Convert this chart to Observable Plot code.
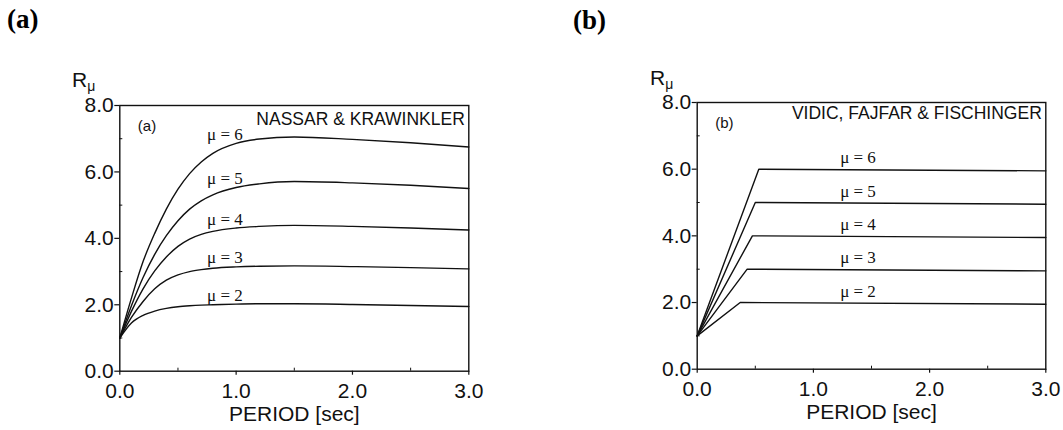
<!DOCTYPE html>
<html>
<head>
<meta charset="utf-8">
<script src="https://cdn.jsdelivr.net/npm/d3@7"></script>
<script src="https://cdn.jsdelivr.net/npm/@observablehq/plot@0.6"></script>
<style>
  html, body { margin: 0; padding: 0; background: #fff; }
  #page { position: relative; width: 1063px; height: 430px; overflow: hidden; background: #fff; }
  .panel { position: absolute; top: 0; }
  .hdr { position: absolute; font: bold 27px "Liberation Serif", "Times New Roman", serif; line-height: 1; color: #000; }
  .rmu { position: absolute; font: 21px "Liberation Sans", Arial, sans-serif; line-height: 1; color: #111; }
  .rmu sub { font-size: 14px; vertical-align: -4px; }
</style>
</head>
<body>
<div id="page">
  <div class="hdr" style="left:7px;top:6px;">(a)</div>
  <div class="hdr" style="left:573px;top:7px;">(b)</div>
  <div class="rmu" style="left:72px;top:69px;">R<sub>μ</sub></div>
  <div class="rmu" style="left:650px;top:67px;">R<sub>μ</sub></div>
</div>
<script>
// ---------- data ----------
const ductilities = [2, 3, 4, 5, 6];

// (a) Nassar & Krawinkler: period grid and R_mu readings
const periodA = [0, 0.1, 0.2, 0.3, 0.4, 0.5, 0.6, 0.7, 0.8, 1.0, 1.2, 1.5, 2.0, 2.5, 3.0];
const nkMu2 = [1.0, 1.45, 1.68, 1.81, 1.89, 1.94, 1.97, 1.99, 2.00, 2.02, 2.03, 2.03, 2.01, 1.98, 1.95];
const nkMu3 = [1.0, 1.62, 2.10, 2.48, 2.74, 2.90, 3.00, 3.06, 3.10, 3.14, 3.16, 3.17, 3.15, 3.12, 3.08];
const nkMu4 = [1.0, 1.80, 2.48, 3.02, 3.44, 3.76, 3.98, 4.12, 4.21, 4.31, 4.36, 4.39, 4.36, 4.31, 4.25];
const nkMu5 = [1.0, 1.97, 2.82, 3.52, 4.08, 4.53, 4.88, 5.13, 5.31, 5.53, 5.64, 5.71, 5.67, 5.60, 5.50];
const nkMu6 = [1.0, 2.20, 3.30, 4.15, 4.88, 5.48, 5.95, 6.30, 6.56, 6.86, 6.99, 7.05, 6.98, 6.88, 6.75];
const nkSeries = [nkMu2, nkMu3, nkMu4, nkMu5, nkMu6];

// (b) Vidic, Fajfar & Fischinger: piecewise linear (start, corner, end)
const vffT = [
  [0, 0.37, 3.0],
  [0, 0.43, 3.0],
  [0, 0.475, 3.0],
  [0, 0.50, 3.0],
  [0, 0.53, 3.0]
];
const vffR = [
  [1.0, 2.0, 1.95],
  [1.0, 3.0, 2.95],
  [1.0, 4.0, 3.95],
  [1.0, 5.0, 4.95],
  [1.0, 6.0, 5.95]
];

const yTicks = [0, 2, 4, 6, 8];
const yMinor = [1, 3, 5, 7];
const xTicks = [0, 1, 2, 3];
const xMinor = [0.5, 1.5, 2.5];
const sourceA = "NASSAR & KRAWINKLER";
const sourceB = "VIDIC, FAJFAR & FISCHINGER";
const xTitle = "PERIOD [sec]";

// ---------- tables ----------
const rowsA = [];
ductilities.forEach((mu, i) => periodA.forEach((t, j) => rowsA.push({mu, T: t, R: nkSeries[i][j]})));
const rowsB = [];
ductilities.forEach((mu, i) => vffT[i].forEach((t, j) => rowsB.push({mu, T: t, R: vffR[i][j]})));

const labelT_A = 0.75;
const labelsA = ductilities.map((mu, i) => ({mu, T: labelT_A, R: nkSeries[i][periodA.indexOf(1.0)]}));
const labelT_B = 1.23;
const labelsB = ductilities.map((mu, i) => ({mu, T: labelT_B, R: vffR[i][1]}));

const ink = "#111";
const fmt = d => d.toFixed(1);

function panel({rows, labels, labelDy, curve, source, tag, margins, sourceDy}) {
  return Plot.plot({
    width: margins.width, height: 430,
    marginLeft: margins.left, marginRight: margins.right,
    marginTop: margins.top, marginBottom: margins.bottom,
    x: {domain: [0, 3]},
    y: {domain: [0, 8]},
    style: {fontFamily: "'Liberation Sans', Arial, sans-serif", color: ink, background: "transparent", overflow: "visible"},
    marks: [
      Plot.frame({stroke: ink, strokeWidth: 1.4}),
      Plot.axisY({ticks: yTicks, tickFormat: fmt, fontSize: 21, tickSize: 5, tickPadding: 1, label: null, strokeWidth: 1.2}),
      Plot.axisY({ticks: yMinor, tickFormat: () => "", tickSize: -3, label: null}),
      Plot.axisX({ticks: xTicks, tickFormat: fmt, fontSize: 21, tickSize: 4, tickPadding: 8, label: xTitle,
                  labelAnchor: "center", labelArrow: "none", labelOffset: 50, strokeWidth: 1.2}),
      Plot.axisX({ticks: xMinor, tickFormat: () => "", tickSize: -3, label: null}),
      Plot.line(rows, {x: "T", y: "R", z: "mu", curve, stroke: ink, strokeWidth: 1.4}),
      Plot.text(labels, {x: "T", y: "R", text: d => `μ = ${d.mu}`, textAnchor: "start", lineAnchor: "bottom",
                         dy: labelDy, fontFamily: "'Liberation Serif', 'Times New Roman', serif", fontSize: 17, fill: ink}),
      Plot.text([tag], {frameAnchor: "top-left", dx: 18, dy: 15, fontSize: 15, textAnchor: "start", lineAnchor: "top", fill: ink}),
      Plot.text([source], {frameAnchor: "top-right", dx: -4, dy: sourceDy, fontSize: 17.5, textAnchor: "end", lineAnchor: "top", fill: ink})
    ]
  });
}

const plotA = panel({
  rows: rowsA, labels: labelsA, labelDy: -3.5, curve: "monotone-x",
  source: sourceA, tag: "(a)", sourceDy: 7,
  margins: {width: 531, left: 119.3, right: 531 - 468.3, top: 105, bottom: 430 - 370.7}
});
const plotB = panel({
  rows: rowsB, labels: labelsB, labelDy: -6, curve: "linear",
  source: sourceB, tag: "(b)", sourceDy: 4,
  margins: {width: 532, left: 696.7 - 531, right: 1063 - 1045.3, top: 102, bottom: 430 - 368.7}
});

const page = document.getElementById("page");
plotA.classList.add("panel"); plotA.style.left = "0px";
plotB.classList.add("panel"); plotB.style.left = "531px";
page.prepend(plotB);
page.prepend(plotA);
</script>
</body>
</html>
